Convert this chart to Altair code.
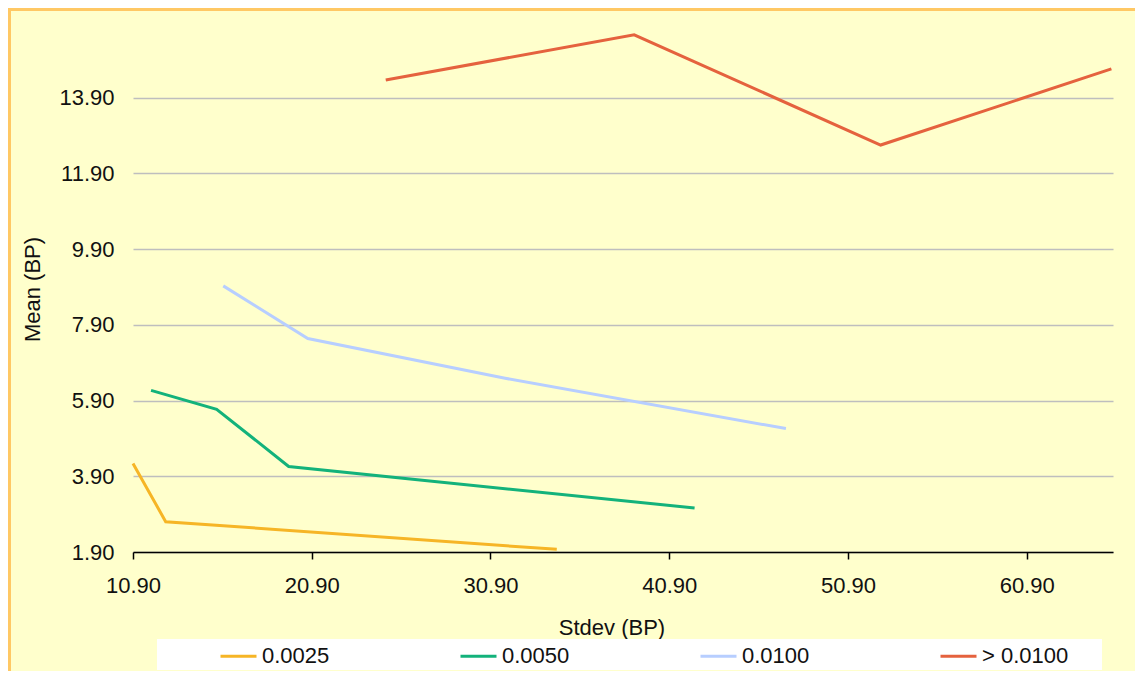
import altair as alt
import pandas as pd

# ---- data ----
series_names = ["0.0025", "0.0050", "0.0100", "> 0.0100"]
series_colors = ["#F6B526", "#13B27B", "#B7CEFF", "#E5623E"]

x_0025 = [10.90, 12.73, 34.61]
y_0025 = [4.24, 2.70, 1.97]

x_0050 = [11.91, 15.58, 19.61, 42.32]
y_0050 = [6.17, 5.67, 4.16, 3.06]

x_0100 = [15.95, 20.68, 31.72, 47.43]
y_0100 = [8.93, 7.54, 6.49, 5.16]

x_gt0100 = [25.04, 38.94, 52.73, 65.64]
y_gt0100 = [14.37, 15.56, 12.65, 14.66]

x_ticks = [10.9, 20.9, 30.9, 40.9, 50.9, 60.9]
y_ticks = [1.9, 3.9, 5.9, 7.9, 9.9, 11.9, 13.9]

x_domain = [10.9, 65.73]
y_domain = [1.9, 15.9]

# ---- build table ----
rows = []
for name, xs, ys in zip(series_names,
                        [x_0025, x_0050, x_0100, x_gt0100],
                        [y_0025, y_0050, y_0100, y_gt0100]):
    for i, (xv, yv) in enumerate(zip(xs, ys)):
        rows.append({"series": name, "stdev": xv, "mean": yv, "idx": i})
df = pd.DataFrame(rows)

FONT = "Liberation Sans"
TXT = "#111111"

one = pd.DataFrame({"k": [0]})

border = alt.Chart(one).mark_rect(
    fillOpacity=0, stroke="#FFC864", strokeWidth=3
).encode(
    x=alt.value(-123.5), x2=alt.value(1300),
    y=alt.value(-12.5), y2=alt.value(900)
)

legend_box = alt.Chart(one).mark_rect(fill="#FFFFFF").encode(
    x=alt.value(24), x2=alt.value(969),
    y=alt.value(617), y2=alt.value(648)
)

lines = alt.Chart(df).mark_line(strokeWidth=3).encode(
    x=alt.X(
        "stdev:Q",
        scale=alt.Scale(domain=x_domain, nice=False, zero=False),
        axis=alt.Axis(
            values=x_ticks, format=".2f", title="Stdev (BP)", grid=False,
            domainColor="#000000", domainWidth=1.5,
            tickColor="#000000", tickWidth=1.5, tickSize=7,
            labelPadding=16, labelFlush=False,
            titleX=478.5, titleY=82, titleBaseline="alphabetic",
            titleAlign="center",
        ),
    ),
    y=alt.Y(
        "mean:Q",
        scale=alt.Scale(domain=y_domain, nice=False, zero=False),
        axis=alt.Axis(
            values=y_ticks, format=".2f", title="Mean (BP)",
            domain=False, ticks=False, tickSize=0, labelPadding=19,
            labelFlush=False,
            gridColor="#BEBEBE", gridWidth=1.5,
            titleX=-94, titleY=267, titleBaseline="alphabetic",
            titleAlign="center", titleAngle=270,
        ),
    ),
    color=alt.Color(
        "series:N",
        scale=alt.Scale(domain=series_names, range=series_colors),
        legend=alt.Legend(
            orient="none", legendX=86, legendY=614.5,
            direction="horizontal", columns=4, gridAlign="all",
            columnPadding=105, symbolType="stroke", symbolSize=1296,
            symbolStrokeWidth=3, labelOffset=4, padding=0, title=None,
            labelLimit=0,
        ),
    ),
    order="idx:Q",
)

chart = alt.layer(border, legend_box, lines).properties(
    width=980,
    height=530,
    autosize=alt.AutoSizeParams(type="none"),
    padding={"left": 125, "top": 14, "right": 22, "bottom": 119},
    background="#FFFFCC",
).configure_view(
    strokeWidth=0
).configure_axis(
    labelFont=FONT, titleFont=FONT, labelFontSize=22, titleFontSize=22,
    labelColor=TXT, titleColor=TXT, titleFontWeight="normal",
).configure_legend(
    labelFont=FONT, labelFontSize=22, labelColor=TXT,
)

chart.save("out.html", embed_options={"renderer": "svg", "actions": False})
